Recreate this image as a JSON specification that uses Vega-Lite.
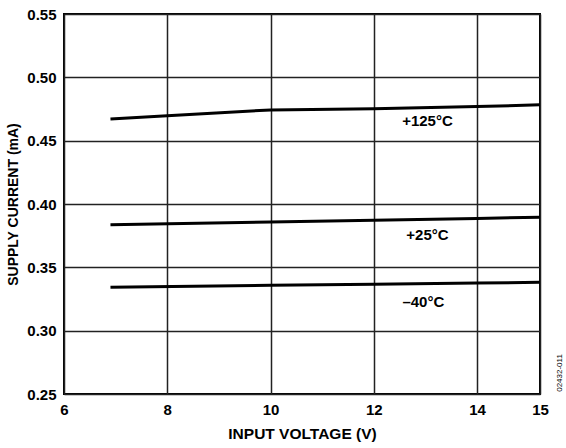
{
  "$schema": "https://vega.github.io/schema/vega-lite/v6.json",
  "width": 476,
  "height": 380,
  "autosize": {"type": "none"},
  "padding": {"left": 64, "top": 14, "right": 26, "bottom": 54},
  "background": "white",
  "config": {
    "view": {"stroke": "black", "strokeWidth": 2},
    "font": "Liberation Sans",
    "axis": {
      "labelFont": "Liberation Sans",
      "labelFontWeight": "bold",
      "labelFontSize": 15,
      "labelColor": "black",
      "titleFont": "Liberation Sans",
      "titleFontWeight": "bold",
      "titleFontSize": 14,
      "titleColor": "black",
      "gridColor": "#222222",
      "gridWidth": 1.5,
      "gridOpacity": 1,
      "ticks": false,
      "domain": false
    }
  },
  "datasets": {
    "curves": [
      {"series": "+125°C", "v": 6.9, "i": 0.4672},
      {"series": "+125°C", "v": 8, "i": 0.4696},
      {"series": "+125°C", "v": 10, "i": 0.4743},
      {"series": "+125°C", "v": 12, "i": 0.4752},
      {"series": "+125°C", "v": 14, "i": 0.4769},
      {"series": "+125°C", "v": 15.22, "i": 0.4783},
      {"series": "+25°C", "v": 6.9, "i": 0.3837},
      {"series": "+25°C", "v": 10, "i": 0.3858},
      {"series": "+25°C", "v": 12, "i": 0.3872},
      {"series": "+25°C", "v": 14, "i": 0.3886},
      {"series": "+25°C", "v": 15.22, "i": 0.3896},
      {"series": "-40°C", "v": 6.9, "i": 0.3343},
      {"series": "-40°C", "v": 10, "i": 0.3358},
      {"series": "-40°C", "v": 12, "i": 0.3367},
      {"series": "-40°C", "v": 14, "i": 0.3376},
      {"series": "-40°C", "v": 15.22, "i": 0.3382}
    ],
    "labels": [
      {"text": "+125°C", "v": 13.04, "i": 0.4656},
      {"text": "+25°C", "v": 13.04, "i": 0.3756},
      {"text": "–40°C", "v": 12.96, "i": 0.3229}
    ],
    "note": [
      {"text": "02432-011", "v": 15.22, "i": 0.2666}
    ]
  },
  "layer": [
    {
      "data": {"name": "curves"},
      "mark": {"type": "line", "color": "black", "strokeWidth": 3, "clip": true},
      "encoding": {
        "x": {
          "field": "v", "type": "quantitative",
          "scale": {"domain": [6, 15.22], "nice": false, "zero": false},
          "axis": {
            "title": "INPUT VOLTAGE (V)",
            "titleFontSize": 15.5,
            "values": [6, 8, 10, 12, 14, 15.22],
            "labelExpr": "datum.value > 14.5 ? '15' : datum.label",
            "labelPadding": 8,
            "titlePadding": 9,
            "labelFlush": false,
            "labelOverlap": false
          }
        },
        "y": {
          "field": "i", "type": "quantitative",
          "scale": {"domain": [0.25, 0.55], "nice": false, "zero": false},
          "axis": {
            "title": "SUPPLY CURRENT (mA)",
            "values": [0.25, 0.3, 0.35, 0.4, 0.45, 0.5, 0.55],
            "format": ".2f",
            "labelPadding": 8,
            "titlePadding": 6,
            "labelFlush": false,
            "labelOverlap": false
          }
        },
        "detail": {"field": "series"}
      }
    },
    {
      "data": {"name": "labels"},
      "mark": {"type": "text", "font": "Liberation Sans", "fontWeight": "bold", "fontSize": 15, "color": "black", "align": "center", "baseline": "middle"},
      "encoding": {
        "x": {"field": "v", "type": "quantitative"},
        "y": {"field": "i", "type": "quantitative"},
        "text": {"field": "text"}
      }
    },
    {
      "data": {"name": "note"},
      "mark": {"type": "text", "font": "Liberation Sans", "fontSize": 8, "color": "black", "angle": 270, "align": "center", "baseline": "middle", "dx": 0, "dy": 20},
      "encoding": {
        "x": {"field": "v", "type": "quantitative"},
        "y": {"field": "i", "type": "quantitative"},
        "text": {"field": "text"}
      }
    }
  ]
}
